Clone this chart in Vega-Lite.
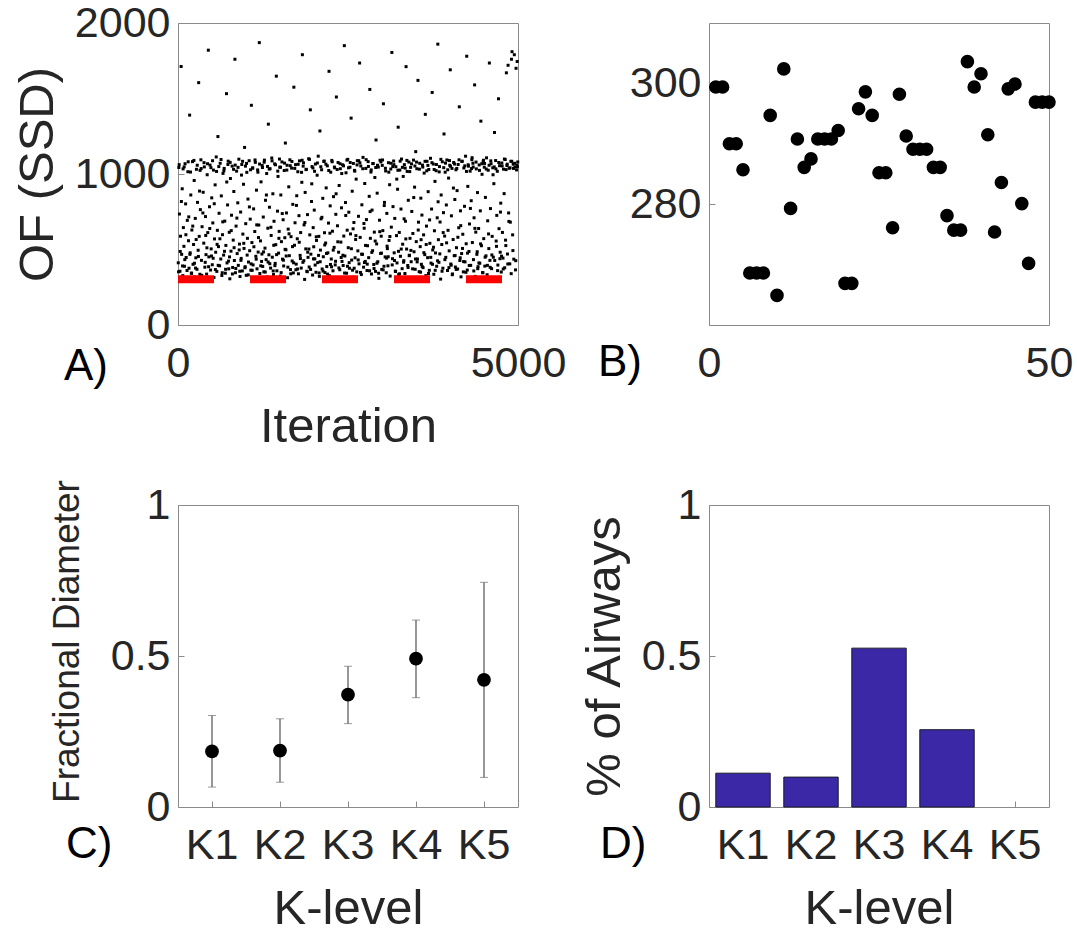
{
"$schema": "https://vega.github.io/schema/vega-lite/v6.json",
"autosize": "none",
"padding": {"left": 178, "top": 23, "right": 899, "bottom": 909},
"background": "white",
"datasets": {
"iters": [
{"it":4,"of":412},{"it":12,"of":1043},{"it":21,"of":735},{"it":29,"of":356},{"it":37,"of":588},{"it":46,"of":1712},{"it":54,"of":468},{"it":62,"of":902},{"it":71,"of":327},{"it":79,"of":645},
{"it":87,"of":521},{"it":95,"of":389},{"it":104,"of":1068},{"it":112,"of":802},{"it":120,"of":447},{"it":129,"of":312},{"it":137,"of":693},{"it":145,"of":1015},{"it":154,"of":558},{"it":162,"of":376},
{"it":171,"of":1390},{"it":179,"of":478},{"it":188,"of":861},{"it":196,"of":344},{"it":204,"of":629},{"it":213,"of":1082},{"it":221,"of":402},{"it":229,"of":533},{"it":238,"of":957},{"it":246,"of":318},
{"it":254,"of":706},{"it":262,"of":445},{"it":271,"of":1031},{"it":279,"of":369},{"it":287,"of":812},{"it":296,"of":495},{"it":304,"of":1605},{"it":312,"of":587},{"it":321,"of":336},{"it":329,"of":764},
{"it":337,"of":1094},{"it":345,"of":428},{"it":354,"of":651},{"it":362,"of":301},{"it":370,"of":879},{"it":379,"of":542},{"it":387,"of":1047},{"it":395,"of":383},{"it":404,"of":718},{"it":412,"of":466},
{"it":421,"of":337},{"it":429,"of":995},{"it":438,"of":612},{"it":446,"of":1820},{"it":454,"of":451},{"it":463,"of":783},{"it":471,"of":1059},{"it":479,"of":364},{"it":488,"of":504},{"it":496,"of":842},
{"it":504,"of":399},{"it":512,"of":676},{"it":521,"of":1026},{"it":529,"of":315},{"it":537,"of":570},{"it":546,"of":928},{"it":554,"of":482},{"it":562,"of":1113},{"it":571,"of":355},{"it":579,"of":627},
{"it":587,"of":1248},{"it":595,"of":519},{"it":604,"of":740},{"it":612,"of":392},{"it":620,"of":1071},{"it":629,"of":437},{"it":637,"of":855},{"it":645,"of":328},{"it":654,"of":598},{"it":662,"of":1004},
{"it":671,"of":463},{"it":679,"of":1037},{"it":688,"of":688},{"it":696,"of":343},{"it":704,"of":527},{"it":713,"of":1532},{"it":721,"of":411},{"it":729,"of":795},{"it":738,"of":1085},{"it":746,"of":372},
{"it":754,"of":614},{"it":762,"of":306},{"it":771,"of":970},{"it":779,"of":489},{"it":787,"of":727},{"it":796,"of":1052},{"it":804,"of":381},{"it":812,"of":562},{"it":821,"of":884},{"it":829,"of":427},
{"it":837,"of":1760},{"it":845,"of":346},{"it":854,"of":655},{"it":862,"of":1019},{"it":870,"of":473},{"it":879,"of":809},{"it":887,"of":395},{"it":895,"of":1098},{"it":904,"of":536},{"it":912,"of":321},
{"it":921,"of":748},{"it":929,"of":441},{"it":938,"of":1063},{"it":946,"of":358},{"it":954,"of":602},{"it":963,"of":932},{"it":971,"of":507},{"it":979,"of":1176},{"it":988,"of":386},{"it":996,"of":671},
{"it":1004,"of":329},{"it":1012,"of":1011},{"it":1021,"of":574},{"it":1029,"of":834},{"it":1037,"of":417},{"it":1046,"of":1088},{"it":1054,"of":492},{"it":1062,"of":701},{"it":1071,"of":363},{"it":1079,"of":1455},
{"it":1087,"of":546},{"it":1095,"of":1040},{"it":1104,"of":398},{"it":1112,"of":769},{"it":1120,"of":310},{"it":1129,"of":619},{"it":1137,"of":1077},{"it":1145,"of":455},{"it":1154,"of":893},{"it":1162,"of":372},
{"it":1171,"of":1027},{"it":1179,"of":483},{"it":1188,"of":662},{"it":1196,"of":1870},{"it":1204,"of":341},{"it":1213,"of":557},{"it":1221,"of":948},{"it":1229,"of":421},{"it":1238,"of":1056},{"it":1246,"of":388},
{"it":1254,"of":715},{"it":1262,"of":352},{"it":1271,"of":1092},{"it":1279,"of":509},{"it":1287,"of":826},{"it":1296,"of":433},{"it":1304,"of":1003},{"it":1312,"of":318},{"it":1321,"of":641},{"it":1329,"of":1330},
{"it":1337,"of":465},{"it":1345,"of":780},{"it":1354,"of":1035},{"it":1362,"of":377},{"it":1370,"of":593},{"it":1379,"of":1106},{"it":1387,"of":449},{"it":1395,"of":869},{"it":1404,"of":334},{"it":1412,"of":687},
{"it":1421,"of":1067},{"it":1429,"of":408},{"it":1438,"of":532},{"it":1446,"of":1648},{"it":1454,"of":359},{"it":1463,"of":754},{"it":1471,"of":984},{"it":1479,"of":476},{"it":1488,"of":620},{"it":1496,"of":1045},
{"it":1504,"of":324},{"it":1512,"of":861},{"it":1521,"of":552},{"it":1529,"of":1080},{"it":1537,"of":436},{"it":1546,"of":697},{"it":1554,"of":391},{"it":1562,"of":1023},{"it":1571,"of":578},{"it":1579,"of":1205},
{"it":1587,"of":498},{"it":1595,"of":742},{"it":1604,"of":1058},{"it":1612,"of":313},{"it":1620,"of":635},{"it":1629,"of":915},{"it":1637,"of":459},{"it":1645,"of":1094},{"it":1654,"of":367},{"it":1662,"of":585},
{"it":1671,"of":1039},{"it":1679,"of":424},{"it":1688,"of":799},{"it":1696,"of":345},{"it":1704,"of":1575},{"it":1713,"of":528},{"it":1721,"of":677},{"it":1729,"of":1062},{"it":1738,"of":403},{"it":1746,"of":856},
{"it":1754,"of":571},{"it":1762,"of":1015},{"it":1771,"of":339},{"it":1779,"of":724},{"it":1787,"of":1087},{"it":1796,"of":461},{"it":1804,"of":612},{"it":1812,"of":377},{"it":1821,"of":945},{"it":1829,"of":1790},
{"it":1837,"of":415},{"it":1845,"of":1074},{"it":1854,"of":663},{"it":1862,"of":302},{"it":1870,"of":878},{"it":1879,"of":504},{"it":1887,"of":1031},{"it":1895,"of":356},{"it":1904,"of":731},{"it":1912,"of":448},
{"it":1921,"of":1101},{"it":1929,"of":384},{"it":1938,"of":597},{"it":1946,"of":1425},{"it":1954,"of":469},{"it":1963,"of":818},{"it":1971,"of":1049},{"it":1979,"of":331},{"it":1988,"of":645},{"it":1996,"of":518},
{"it":2004,"of":761},{"it":2012,"of":438},{"it":2021,"of":1066},{"it":2029,"of":349},{"it":2037,"of":560},{"it":2046,"of":992},{"it":2054,"of":413},{"it":2062,"of":1118},{"it":2071,"of":587},{"it":2079,"of":322},
{"it":2087,"of":1285},{"it":2095,"of":496},{"it":2104,"of":703},{"it":2112,"of":1028},{"it":2120,"of":371},{"it":2129,"of":839},{"it":2137,"of":452},{"it":2145,"of":1083},{"it":2154,"of":611},{"it":2162,"of":347},
{"it":2171,"of":543},{"it":2179,"of":908},{"it":2188,"of":387},{"it":2196,"of":1054},{"it":2204,"of":478},{"it":2213,"of":675},{"it":2221,"of":1680},{"it":2229,"of":326},{"it":2238,"of":789},{"it":2246,"of":1012},
{"it":2254,"of":437},{"it":2262,"of":1090},{"it":2271,"of":621},{"it":2279,"of":359},{"it":2287,"of":850},{"it":2296,"of":514},{"it":2304,"of":1041},{"it":2312,"of":398},{"it":2321,"of":733},{"it":2329,"of":1510},
{"it":2337,"of":308},{"it":2345,"of":657},{"it":2354,"of":1076},{"it":2362,"of":482},{"it":2370,"of":924},{"it":2379,"of":366},{"it":2387,"of":1035},{"it":2395,"of":549},{"it":2404,"of":776},{"it":2412,"of":421},
{"it":2421,"of":1061},{"it":2429,"of":394},{"it":2438,"of":589},{"it":2446,"of":1850},{"it":2454,"of":457},{"it":2463,"of":811},{"it":2471,"of":1008},{"it":2479,"of":343},{"it":2488,"of":628},{"it":2496,"of":1097},
{"it":2504,"of":512},{"it":2512,"of":747},{"it":2521,"of":376},{"it":2529,"of":1045},{"it":2537,"of":603},{"it":2546,"of":1370},{"it":2554,"of":430},{"it":2562,"of":886},{"it":2571,"of":317},{"it":2579,"of":1070},
{"it":2587,"of":679},{"it":2595,"of":1024},{"it":2604,"of":445},{"it":2612,"of":566},{"it":2620,"of":966},{"it":2629,"of":352},{"it":2637,"of":1088},{"it":2645,"of":491},{"it":2654,"of":720},{"it":2662,"of":405},
{"it":2671,"of":1735},{"it":2679,"of":580},{"it":2688,"of":1053},{"it":2696,"of":334},{"it":2704,"of":796},{"it":2713,"of":468},{"it":2721,"of":1110},{"it":2729,"of":383},{"it":2738,"of":641},{"it":2746,"of":937},
{"it":2754,"of":421},{"it":2762,"of":1037},{"it":2771,"of":698},{"it":2779,"of":361},{"it":2787,"of":525},{"it":2796,"of":1082},{"it":2804,"of":446},{"it":2812,"of":852},{"it":2821,"of":1560},{"it":2829,"of":574},
{"it":2837,"of":1013},{"it":2845,"of":338},{"it":2854,"of":761},{"it":2862,"of":492},{"it":2870,"of":1069},{"it":2879,"of":401},{"it":2887,"of":615},{"it":2895,"of":977},{"it":2904,"of":355},{"it":2912,"of":1225},
{"it":2921,"of":537},{"it":2929,"of":873},{"it":2938,"of":419},{"it":2946,"of":1046},{"it":2954,"of":309},{"it":2963,"of":694},{"it":2971,"of":1091},{"it":2979,"of":474},{"it":2988,"of":588},{"it":2996,"of":368},
{"it":3004,"of":1057},{"it":3012,"of":625},{"it":3021,"of":1465},{"it":3029,"of":389},{"it":3037,"of":812},{"it":3046,"of":451},{"it":3054,"of":1020},{"it":3062,"of":346},{"it":3071,"of":739},{"it":3079,"of":506},
{"it":3087,"of":392},{"it":3095,"of":1075},{"it":3104,"of":560},{"it":3112,"of":929},{"it":3120,"of":324},{"it":3129,"of":1033},{"it":3137,"of":648},{"it":3145,"of":1805},{"it":3154,"of":439},{"it":3162,"of":784},
{"it":3171,"of":1086},{"it":3179,"of":478},{"it":3188,"of":706},{"it":3196,"of":357},{"it":3204,"of":1048},{"it":3213,"of":592},{"it":3221,"of":411},{"it":3229,"of":899},{"it":3238,"of":1310},{"it":3246,"of":335},
{"it":3254,"of":613},{"it":3262,"of":1026},{"it":3271,"of":455},{"it":3279,"of":768},{"it":3287,"of":1099},{"it":3296,"of":373},{"it":3304,"of":535},{"it":3312,"of":984},{"it":3321,"of":426},{"it":3329,"of":1062},
{"it":3337,"of":341},{"it":3345,"of":687},{"it":3354,"of":1711},{"it":3362,"of":503},{"it":3370,"of":1017},{"it":3379,"of":394},{"it":3387,"of":826},{"it":3395,"of":1079},{"it":3404,"of":462},{"it":3412,"of":574},
{"it":3421,"of":1044},{"it":3429,"of":419},{"it":3438,"of":752},{"it":3446,"of":315},{"it":3454,"of":606},{"it":3463,"of":1092},{"it":3471,"of":485},{"it":3479,"of":913},{"it":3488,"of":369},{"it":3496,"of":1148},
{"it":3504,"of":552},{"it":3512,"of":1035},{"it":3521,"of":437},{"it":3529,"of":1620},{"it":3537,"of":681},{"it":3546,"of":353},{"it":3554,"of":1071},{"it":3562,"of":519},{"it":3571,"of":840},{"it":3579,"of":402},
{"it":3587,"of":728},{"it":3595,"of":1059},{"it":3604,"of":380},{"it":3612,"of":597},{"it":3620,"of":1006},{"it":3629,"of":466},{"it":3637,"of":1395},{"it":3645,"of":327},{"it":3654,"of":655},{"it":3662,"of":1084},
{"it":3671,"of":446},{"it":3679,"of":883},{"it":3688,"of":1030},{"it":3696,"of":362},{"it":3704,"of":541},{"it":3713,"of":1104},{"it":3721,"of":410},{"it":3729,"of":768},{"it":3738,"of":1540},{"it":3746,"of":497},
{"it":3754,"of":1066},{"it":3762,"of":336},{"it":3771,"of":624},{"it":3779,"of":951},{"it":3787,"of":477},{"it":3796,"of":1022},{"it":3804,"of":389},{"it":3812,"of":710},{"it":3821,"of":1860},{"it":3829,"of":565},
{"it":3837,"of":415},{"it":3845,"of":1049},{"it":3854,"of":682},{"it":3862,"of":304},{"it":3870,"of":861},{"it":3879,"of":533},{"it":3887,"of":1081},{"it":3895,"of":376},{"it":3904,"of":744},{"it":3912,"of":1265},
{"it":3921,"of":589},{"it":3929,"of":1012},{"it":3938,"of":448},{"it":3946,"of":795},{"it":3954,"of":1093},{"it":3963,"of":361},{"it":3971,"of":627},{"it":3979,"of":973},{"it":3988,"of":491},{"it":3996,"of":1058},
{"it":4004,"of":1690},{"it":4012,"of":404},{"it":4021,"of":723},{"it":4029,"of":1037},{"it":4037,"of":338},{"it":4046,"of":566},{"it":4054,"of":1076},{"it":4062,"of":459},{"it":4071,"of":831},{"it":4079,"of":384},
{"it":4087,"of":1028},{"it":4095,"of":512},{"it":4104,"of":890},{"it":4112,"of":371},{"it":4120,"of":1063},{"it":4129,"of":644},{"it":4137,"of":1445},{"it":4145,"of":427},{"it":4154,"of":756},{"it":4162,"of":319},
{"it":4171,"of":473},{"it":4179,"of":1085},{"it":4188,"of":601},{"it":4196,"of":352},{"it":4204,"of":1040},{"it":4213,"of":786},{"it":4221,"of":418},{"it":4229,"of":1118},{"it":4238,"of":538},{"it":4246,"of":1780},
{"it":4254,"of":364},{"it":4262,"of":918},{"it":4271,"of":1052},{"it":4279,"of":487},{"it":4287,"of":669},{"it":4296,"of":1019},{"it":4304,"of":395},{"it":4312,"of":823},{"it":4321,"of":1095},{"it":4329,"of":546},
{"it":4337,"of":1071},{"it":4345,"of":433},{"it":4354,"of":710},{"it":4362,"of":1590},{"it":4370,"of":322},{"it":4379,"of":615},{"it":4387,"of":1034},{"it":4395,"of":468},{"it":4404,"of":877},{"it":4412,"of":386},
{"it":4421,"of":639},{"it":4429,"of":1060},{"it":4438,"of":409},{"it":4446,"of":756},{"it":4454,"of":1350},{"it":4463,"of":525},{"it":4471,"of":998},{"it":4479,"of":347},{"it":4488,"of":1082},{"it":4496,"of":572},
{"it":4504,"of":1045},{"it":4512,"of":390},{"it":4521,"of":845},{"it":4529,"of":458},{"it":4537,"of":1107},{"it":4546,"of":333},{"it":4554,"of":690},{"it":4562,"of":1025},{"it":4571,"of":506},{"it":4579,"of":1735},
{"it":4587,"of":428},{"it":4595,"of":771},{"it":4604,"of":1068},{"it":4612,"of":373},{"it":4620,"of":587},{"it":4629,"of":1041},{"it":4637,"of":449},{"it":4645,"of":936},{"it":4654,"of":1275},{"it":4662,"of":312},
{"it":4671,"of":1089},{"it":4679,"of":556},{"it":4688,"of":726},{"it":4696,"of":1018},{"it":4704,"of":397},{"it":4713,"of":1498},{"it":4721,"of":638},{"it":4729,"of":1055},{"it":4738,"of":482},{"it":4746,"of":807},
{"it":4754,"of":351},{"it":4762,"of":1073},{"it":4771,"of":613},{"it":4779,"of":443},{"it":4787,"of":1032},{"it":4796,"of":870},{"it":4804,"of":379},{"it":4812,"of":1096},{"it":4821,"of":526},{"it":4829,"of":1670},
{"it":4837,"of":1056},{"it":4845,"of":470},{"it":4854,"of":1720},{"it":4862,"of":742},{"it":4870,"of":1038},{"it":4879,"of":405},{"it":4887,"of":681},{"it":4895,"of":1084},{"it":4904,"of":1760},{"it":4912,"of":1810},
{"it":4921,"of":597},{"it":4929,"of":1065},{"it":4938,"of":436},{"it":4946,"of":1790},{"it":4954,"of":1046},{"it":4963,"of":365},{"it":4971,"of":1700},{"it":4979,"of":1027},{"it":4988,"of":1745},{"it":4996,"of":1080},
{"it":8,"of":352},{"it":17,"of":1062},{"it":33,"of":487},{"it":50,"of":818},{"it":67,"of":391},{"it":75,"of":1034},
{"it":91,"of":1047},{"it":100,"of":433},{"it":116,"of":598},{"it":133,"of":361},{"it":150,"of":1081},{"it":158,"of":716},
{"it":175,"of":468},{"it":184,"of":1013},{"it":200,"of":342},{"it":217,"of":655},{"it":234,"of":1090},{"it":242,"of":409},
{"it":258,"of":377},{"it":267,"of":566},{"it":283,"of":1058},{"it":300,"of":454},{"it":317,"of":887},{"it":325,"of":1024},
{"it":341,"of":1036},{"it":350,"of":329},{"it":366,"of":742},{"it":383,"of":1075},{"it":400,"of":415},{"it":408,"of":593},
{"it":425,"of":511},{"it":434,"of":1068},{"it":450,"of":386},{"it":467,"of":639},{"it":484,"of":1042},{"it":492,"of":457},
{"it":508,"of":1088},{"it":517,"of":442},{"it":533,"of":803},{"it":550,"of":367},{"it":567,"of":1017},{"it":575,"of":534},
{"it":591,"of":395},{"it":600,"of":1049},{"it":616,"of":571},{"it":633,"of":1096},{"it":650,"of":346},{"it":658,"of":683},
{"it":675,"of":1021},{"it":684,"of":488},{"it":700,"of":369},{"it":717,"of":947},{"it":734,"of":1063},{"it":742,"of":423},
{"it":758,"of":451},{"it":767,"of":1077},{"it":783,"of":625},{"it":800,"of":338},{"it":817,"of":1031},{"it":825,"of":512},
{"it":841,"of":1059},{"it":850,"of":374},{"it":866,"of":708},{"it":883,"of":1044},{"it":900,"of":497},{"it":908,"of":356},
{"it":925,"of":428},{"it":934,"of":993},{"it":950,"of":1084},{"it":967,"of":541},{"it":984,"of":379},{"it":992,"of":1052},
{"it":1008,"of":1070},{"it":1017,"of":463},{"it":1033,"of":332},{"it":1050,"of":782},{"it":1067,"of":1028},{"it":1075,"of":405},
{"it":1091,"of":362},{"it":1100,"of":1039},{"it":1116,"of":518},{"it":1133,"of":1093},{"it":1150,"of":436},{"it":1158,"of":663},
{"it":1175,"of":1012},{"it":1184,"of":579},{"it":1200,"of":1066},{"it":1217,"of":392},{"it":1234,"of":470},{"it":1242,"of":1043},
{"it":1258,"of":484},{"it":1267,"of":1078},{"it":1283,"of":351},{"it":1300,"of":861},{"it":1317,"of":1050},{"it":1325,"of":417},
{"it":1341,"of":1033},{"it":1350,"of":406},{"it":1366,"of":647},{"it":1383,"of":1087},{"it":1400,"of":358},{"it":1408,"of":528},
{"it":1425,"of":393},{"it":1434,"of":1061},{"it":1450,"of":466},{"it":1467,"of":1019},{"it":1484,"of":574},{"it":1492,"of":1099},
{"it":1508,"of":1045},{"it":1517,"of":347},{"it":1533,"of":738},{"it":1550,"of":429},{"it":1567,"of":1072},{"it":1575,"of":501},
{"it":1591,"of":457},{"it":1600,"of":1026},{"it":1616,"of":383},{"it":1633,"of":604},{"it":1650,"of":1055},{"it":1658,"of":339},
{"it":1675,"of":1083},{"it":1684,"of":519},{"it":1700,"of":412},{"it":1717,"of":1037},{"it":1734,"of":366},{"it":1742,"of":792},
{"it":1758,"of":371},{"it":1767,"of":1064},{"it":1783,"of":548},{"it":1800,"of":440},{"it":1817,"of":1011},{"it":1825,"of":1091},
{"it":1841,"of":1052},{"it":1850,"of":426},{"it":1866,"of":679},{"it":1883,"of":1029},{"it":1900,"of":353},{"it":1908,"of":482},
{"it":1925,"of":503},{"it":1934,"of":1097},{"it":1950,"of":368},{"it":1967,"of":935},{"it":1984,"of":1040},{"it":1992,"of":438},
{"it":2008,"of":1018},{"it":2017,"of":397},{"it":2033,"of":584},{"it":2050,"of":1073},{"it":2067,"of":461},{"it":2075,"of":345},
{"it":2091,"of":419},{"it":2100,"of":1048},{"it":2116,"of":713},{"it":2133,"of":357},{"it":2150,"of":1086},{"it":2158,"of":530},
{"it":2175,"of":1065},{"it":2184,"of":474},{"it":2200,"of":337},{"it":2217,"of":1023},{"it":2234,"of":608},{"it":2242,"of":401},
{"it":2258,"of":385},{"it":2267,"of":1081},{"it":2283,"of":496},{"it":2300,"of":1046},{"it":2317,"of":422},{"it":2325,"of":869},
{"it":2341,"of":1030},{"it":2350,"of":551},{"it":2366,"of":378},{"it":2383,"of":1068},{"it":2400,"of":447},{"it":2408,"of":1003},
{"it":2425,"of":462},{"it":2434,"of":1054},{"it":2450,"of":344},{"it":2467,"of":725},{"it":2484,"of":1092},{"it":2492,"of":389},
{"it":2508,"of":1041},{"it":2517,"of":413},{"it":2533,"of":1076},{"it":2550,"of":505},{"it":2567,"of":363},{"it":2575,"of":637},
{"it":2591,"of":376},{"it":2600,"of":1019},{"it":2616,"of":592},{"it":2633,"of":1060},{"it":2650,"of":431},{"it":2658,"of":1088},
{"it":2675,"of":1074},{"it":2684,"of":348},{"it":2700,"of":469},{"it":2717,"of":1035},{"it":2734,"of":672},{"it":2742,"of":414},
{"it":2758,"of":527},{"it":2767,"of":1095},{"it":2783,"of":403},{"it":2800,"of":1050},{"it":2817,"of":359},{"it":2825,"of":751},
{"it":2841,"of":1027},{"it":2850,"of":481},{"it":2866,"of":1069},{"it":2883,"of":374},{"it":2900,"of":556},{"it":2908,"of":1043},
{"it":2925,"of":409},{"it":2934,"of":1058},{"it":2950,"of":343},{"it":2967,"of":618},{"it":2984,"of":1080},{"it":2992,"of":476},
{"it":3008,"of":1093},{"it":3017,"of":365},{"it":3033,"of":791},{"it":3050,"of":1038},{"it":3067,"of":443},{"it":3075,"of":522},
{"it":3091,"of":452},{"it":3100,"of":1012},{"it":3116,"of":586},{"it":3133,"of":1071},{"it":3150,"of":398},{"it":3158,"of":1049},
{"it":3175,"of":1062},{"it":3184,"of":427},{"it":3200,"of":354},{"it":3217,"of":966},{"it":3234,"of":1025},{"it":3242,"of":488},
{"it":3258,"of":339},{"it":3267,"of":1085},{"it":3283,"of":503},{"it":3300,"of":1044},{"it":3317,"of":416},{"it":3325,"of":703},
{"it":3341,"of":1039},{"it":3350,"of":570},{"it":3366,"of":1090},{"it":3383,"of":381},{"it":3400,"of":459},{"it":3408,"of":1016},
{"it":3425,"of":494},{"it":3434,"of":1067},{"it":3450,"of":372},{"it":3467,"of":844},{"it":3484,"of":1053},{"it":3492,"of":437},
{"it":3508,"of":1079},{"it":3517,"of":418},{"it":3533,"of":629},{"it":3550,"of":1032},{"it":3567,"of":350},{"it":3575,"of":565},
{"it":3591,"of":387},{"it":3600,"of":1046},{"it":3616,"of":479},{"it":3633,"of":1084},{"it":3650,"of":533},{"it":3658,"of":1021},
{"it":3675,"of":1057},{"it":3684,"of":341},{"it":3700,"of":696},{"it":3717,"of":448},{"it":3734,"of":1075},{"it":3742,"of":402},
{"it":3758,"of":515},{"it":3767,"of":1030},{"it":3783,"of":362},{"it":3800,"of":1063},{"it":3817,"of":425},{"it":3825,"of":816},
{"it":3841,"of":1014},{"it":3850,"of":471},{"it":3866,"of":1097},{"it":3883,"of":356},{"it":3900,"of":612},{"it":3908,"of":1042},
{"it":3925,"of":433},{"it":3934,"of":1072},{"it":3950,"of":544},{"it":3967,"of":1028},{"it":3984,"of":380},{"it":3992,"of":1089},
{"it":4008,"of":1051},{"it":4017,"of":396},{"it":4033,"of":333},{"it":4050,"of":907},{"it":4067,"of":1066},{"it":4075,"of":460},
{"it":4091,"of":368},{"it":4100,"of":1037},{"it":4116,"of":581},{"it":4133,"of":1094},{"it":4150,"of":445},{"it":4158,"of":658},
{"it":4175,"of":1083},{"it":4184,"of":507},{"it":4200,"of":420},{"it":4217,"of":1054},{"it":4234,"of":349},{"it":4242,"of":1017},
{"it":4258,"of":476},{"it":4267,"of":1061},{"it":4283,"of":394},{"it":4300,"of":772},{"it":4317,"of":1036},{"it":4325,"of":1108},
{"it":4341,"of":1046},{"it":4350,"of":358},{"it":4366,"of":640},{"it":4383,"of":1079},{"it":4400,"of":485},{"it":4408,"of":373},
{"it":4425,"of":411},{"it":4434,"of":1024},{"it":4450,"of":537},{"it":4467,"of":1068},{"it":4484,"of":346},{"it":4492,"of":1091},
{"it":4508,"of":1070},{"it":4517,"of":449},{"it":4533,"of":1033},{"it":4550,"of":395},{"it":4567,"of":603},{"it":4575,"of":1058},
{"it":4591,"of":382},{"it":4600,"of":1087},{"it":4616,"of":464},{"it":4633,"of":995},{"it":4650,"of":1047},{"it":4658,"of":427},
{"it":4675,"of":1034},{"it":4684,"of":521},{"it":4700,"of":360},{"it":4717,"of":1076},{"it":4734,"of":439},{"it":4742,"of":748},
{"it":4758,"of":456},{"it":4767,"of":1053},{"it":4783,"of":371},{"it":4800,"of":1099},{"it":4817,"of":562},{"it":4825,"of":1029},
{"it":4841,"of":1065},{"it":4850,"of":404},{"it":4866,"of":686},{"it":4883,"of":1041},{"it":4900,"of":340},{"it":4908,"of":1084},
{"it":4925,"of":493},{"it":4934,"of":1037},{"it":4950,"of":1071},{"it":4967,"of":426},{"it":4984,"of":1059},{"it":4992,"of":1048}
],
"best": [{"start": 0, "end": 5000, "of": 303}],
"runs": [
{"run":1,"of":299.4},{"run":2,"of":299.4},{"run":3,"of":290},{"run":4,"of":290},{"run":5,"of":285.7},
{"run":6,"of":268.6},{"run":7,"of":268.6},{"run":8,"of":268.6},{"run":9,"of":294.7},{"run":10,"of":264.9},
{"run":11,"of":302.4},{"run":12,"of":279.3},{"run":13,"of":290.8},{"run":14,"of":286.1},{"run":15,"of":287.5},
{"run":16,"of":290.8},{"run":17,"of":290.8},{"run":18,"of":290.8},{"run":19,"of":292.2},{"run":20,"of":266.9},
{"run":21,"of":266.9},{"run":22,"of":295.8},{"run":23,"of":298.6},{"run":24,"of":294.7},{"run":25,"of":285.2},
{"run":26,"of":285.2},{"run":27,"of":276.1},{"run":28,"of":298.2},{"run":29,"of":291.3},{"run":30,"of":289.1},
{"run":31,"of":289.1},{"run":32,"of":289.1},{"run":33,"of":286.1},{"run":34,"of":286.1},{"run":35,"of":278.1},
{"run":36,"of":275.7},{"run":37,"of":275.7},{"run":38,"of":303.6},{"run":39,"of":299.4},{"run":40,"of":301.6},
{"run":41,"of":291.5},{"run":42,"of":275.4},{"run":43,"of":283.6},{"run":44,"of":299.1},{"run":45,"of":299.9},
{"run":46,"of":280.1},{"run":47,"of":270.2},{"run":48,"of":296.9},{"run":49,"of":296.9},{"run":50,"of":296.9}
],
"diam": [
{"level":"K1","mean":0.184,"lo":0.066,"hi":0.303},
{"level":"K2","mean":0.187,"lo":0.082,"hi":0.292},
{"level":"K3","mean":0.372,"lo":0.276,"hi":0.466},
{"level":"K4","mean":0.491,"lo":0.362,"hi":0.619},
{"level":"K5","mean":0.421,"lo":0.098,"hi":0.744}
],
"frac": [
{"level":"K1","pct":0.112},
{"level":"K2","pct":0.099},
{"level":"K3","pct":0.526},
{"level":"K4","pct":0.256},
{"level":"K5","pct":0}
]
},
"columns": 2,
"spacing": {"column": 191, "row": 180},
"bounds": "flush",
"concat": [
{
"width": 340, "height": 302,
"title": {"text": "A)", "orient": "bottom", "anchor": "start", "frame": "group", "dx": -114, "dy": -106, "offset": 0},
"layer": [
{"data": {"name": "iters"},
 "mark": {"type": "square", "size": 9, "color": "black", "opacity": 1},
 "encoding": {
  "x": {"field": "it", "type": "quantitative", "scale": {"domain": [0, 5000]}, "axis": {"values": [0, 5000], "format": "d", "title": "Iteration", "titlePadding": 17}},
  "y": {"field": "of", "type": "quantitative", "scale": {"domain": [0, 2000]}, "axis": {"values": [0, 1000, 2000], "format": "d", "title": "OF (SSD)", "titlePadding": 12}}
 }},
{"data": {"name": "best"},
 "mark": {"type": "rule", "color": "#ff0000", "strokeWidth": 8, "strokeDash": [36, 36]},
 "encoding": {
  "x": {"field": "start", "type": "quantitative"},
  "x2": {"field": "end"},
  "y": {"field": "of", "type": "quantitative"}
 }}
]
},
{
"width": 340, "height": 302,
"title": {"text": "B)", "orient": "bottom", "anchor": "start", "frame": "group", "dx": -111, "dy": -44, "offset": 0},
"data": {"name": "runs"},
"mark": {"type": "circle", "size": 185, "color": "black", "opacity": 1},
"encoding": {
 "x": {"field": "run", "type": "quantitative", "scale": {"domain": [0, 50]}, "axis": {"values": [0, 50], "format": "d", "title": null}},
 "y": {"field": "of", "type": "quantitative", "scale": {"domain": [260, 310]}, "axis": {"values": [280, 300], "format": "d", "title": null}}
}
},
{
"width": 340, "height": 302,
"title": {"text": "C)", "orient": "bottom", "anchor": "start", "frame": "group", "dx": -112, "dy": -110, "offset": 0},
"data": {"name": "diam"},
"encoding": {
 "x": {"field": "level", "type": "nominal", "scale": {"type": "band", "paddingInner": 0.2, "paddingOuter": 0.1}, "axis": {"title": "K-level", "labelAngle": 0, "titlePadding": 17}}
},
"layer": [
{"mark": {"type": "rule", "color": "#606060", "strokeWidth": 1.3},
 "encoding": {"y": {"field": "lo", "type": "quantitative", "scale": {"domain": [0, 1]}, "axis": {"values": [0, 0.5, 1], "format": "~g", "title": "Fractional Diameter", "titleFontSize": 37, "titlePadding": 24, "titleY": 136}}, "y2": {"field": "hi"}}},
{"mark": {"type": "tick", "color": "#707070", "size": 8, "thickness": 1},
 "encoding": {"y": {"field": "hi", "type": "quantitative"}}},
{"mark": {"type": "tick", "color": "#707070", "size": 8, "thickness": 1},
 "encoding": {"y": {"field": "lo", "type": "quantitative"}}},
{"mark": {"type": "circle", "size": 190, "color": "black", "opacity": 1},
 "encoding": {"y": {"field": "mean", "type": "quantitative"}}}
]
},
{
"width": 340, "height": 302,
"title": {"text": "D)", "orient": "bottom", "anchor": "start", "frame": "group", "dx": -109, "dy": -110, "offset": 0},
"data": {"name": "frac"},
"mark": {"type": "bar", "color": "#3a28a6", "stroke": "#1c1c2c", "strokeWidth": 1},
"encoding": {
 "x": {"field": "level", "type": "nominal", "scale": {"type": "band", "paddingInner": 0.2, "paddingOuter": 0.1}, "axis": {"title": "K-level", "labelAngle": 0, "titlePadding": 17}},
 "y": {"field": "pct", "type": "quantitative", "scale": {"domain": [0, 1]}, "axis": {"values": [0, 0.5, 1], "format": "~g", "title": "% of Airways", "titlePadding": 12}},
 "strokeOpacity": {"condition": {"test": "datum.pct > 0", "value": 1}, "value": 0}
}
}
],
"config": {
 "view": {"stroke": "#8a8a8a", "strokeWidth": 1},
 "axis": {"domain": false, "grid": false, "labelFont": "Liberation Sans", "labelFontSize": 43, "labelColor": "#262626", "titleFont": "Liberation Sans", "titleFontSize": 49, "titleFontWeight": "normal", "titleColor": "#262626", "tickColor": "#8a8a8a", "tickSize": -6, "labelPadding": 14, "labelFlush": false, "labelOverlap": false},
 "axisX": {"labelPadding": 23},
 "title": {"font": "Liberation Sans", "fontSize": 44, "fontWeight": "normal", "color": "#000000", "baseline": "top"}
}
}
